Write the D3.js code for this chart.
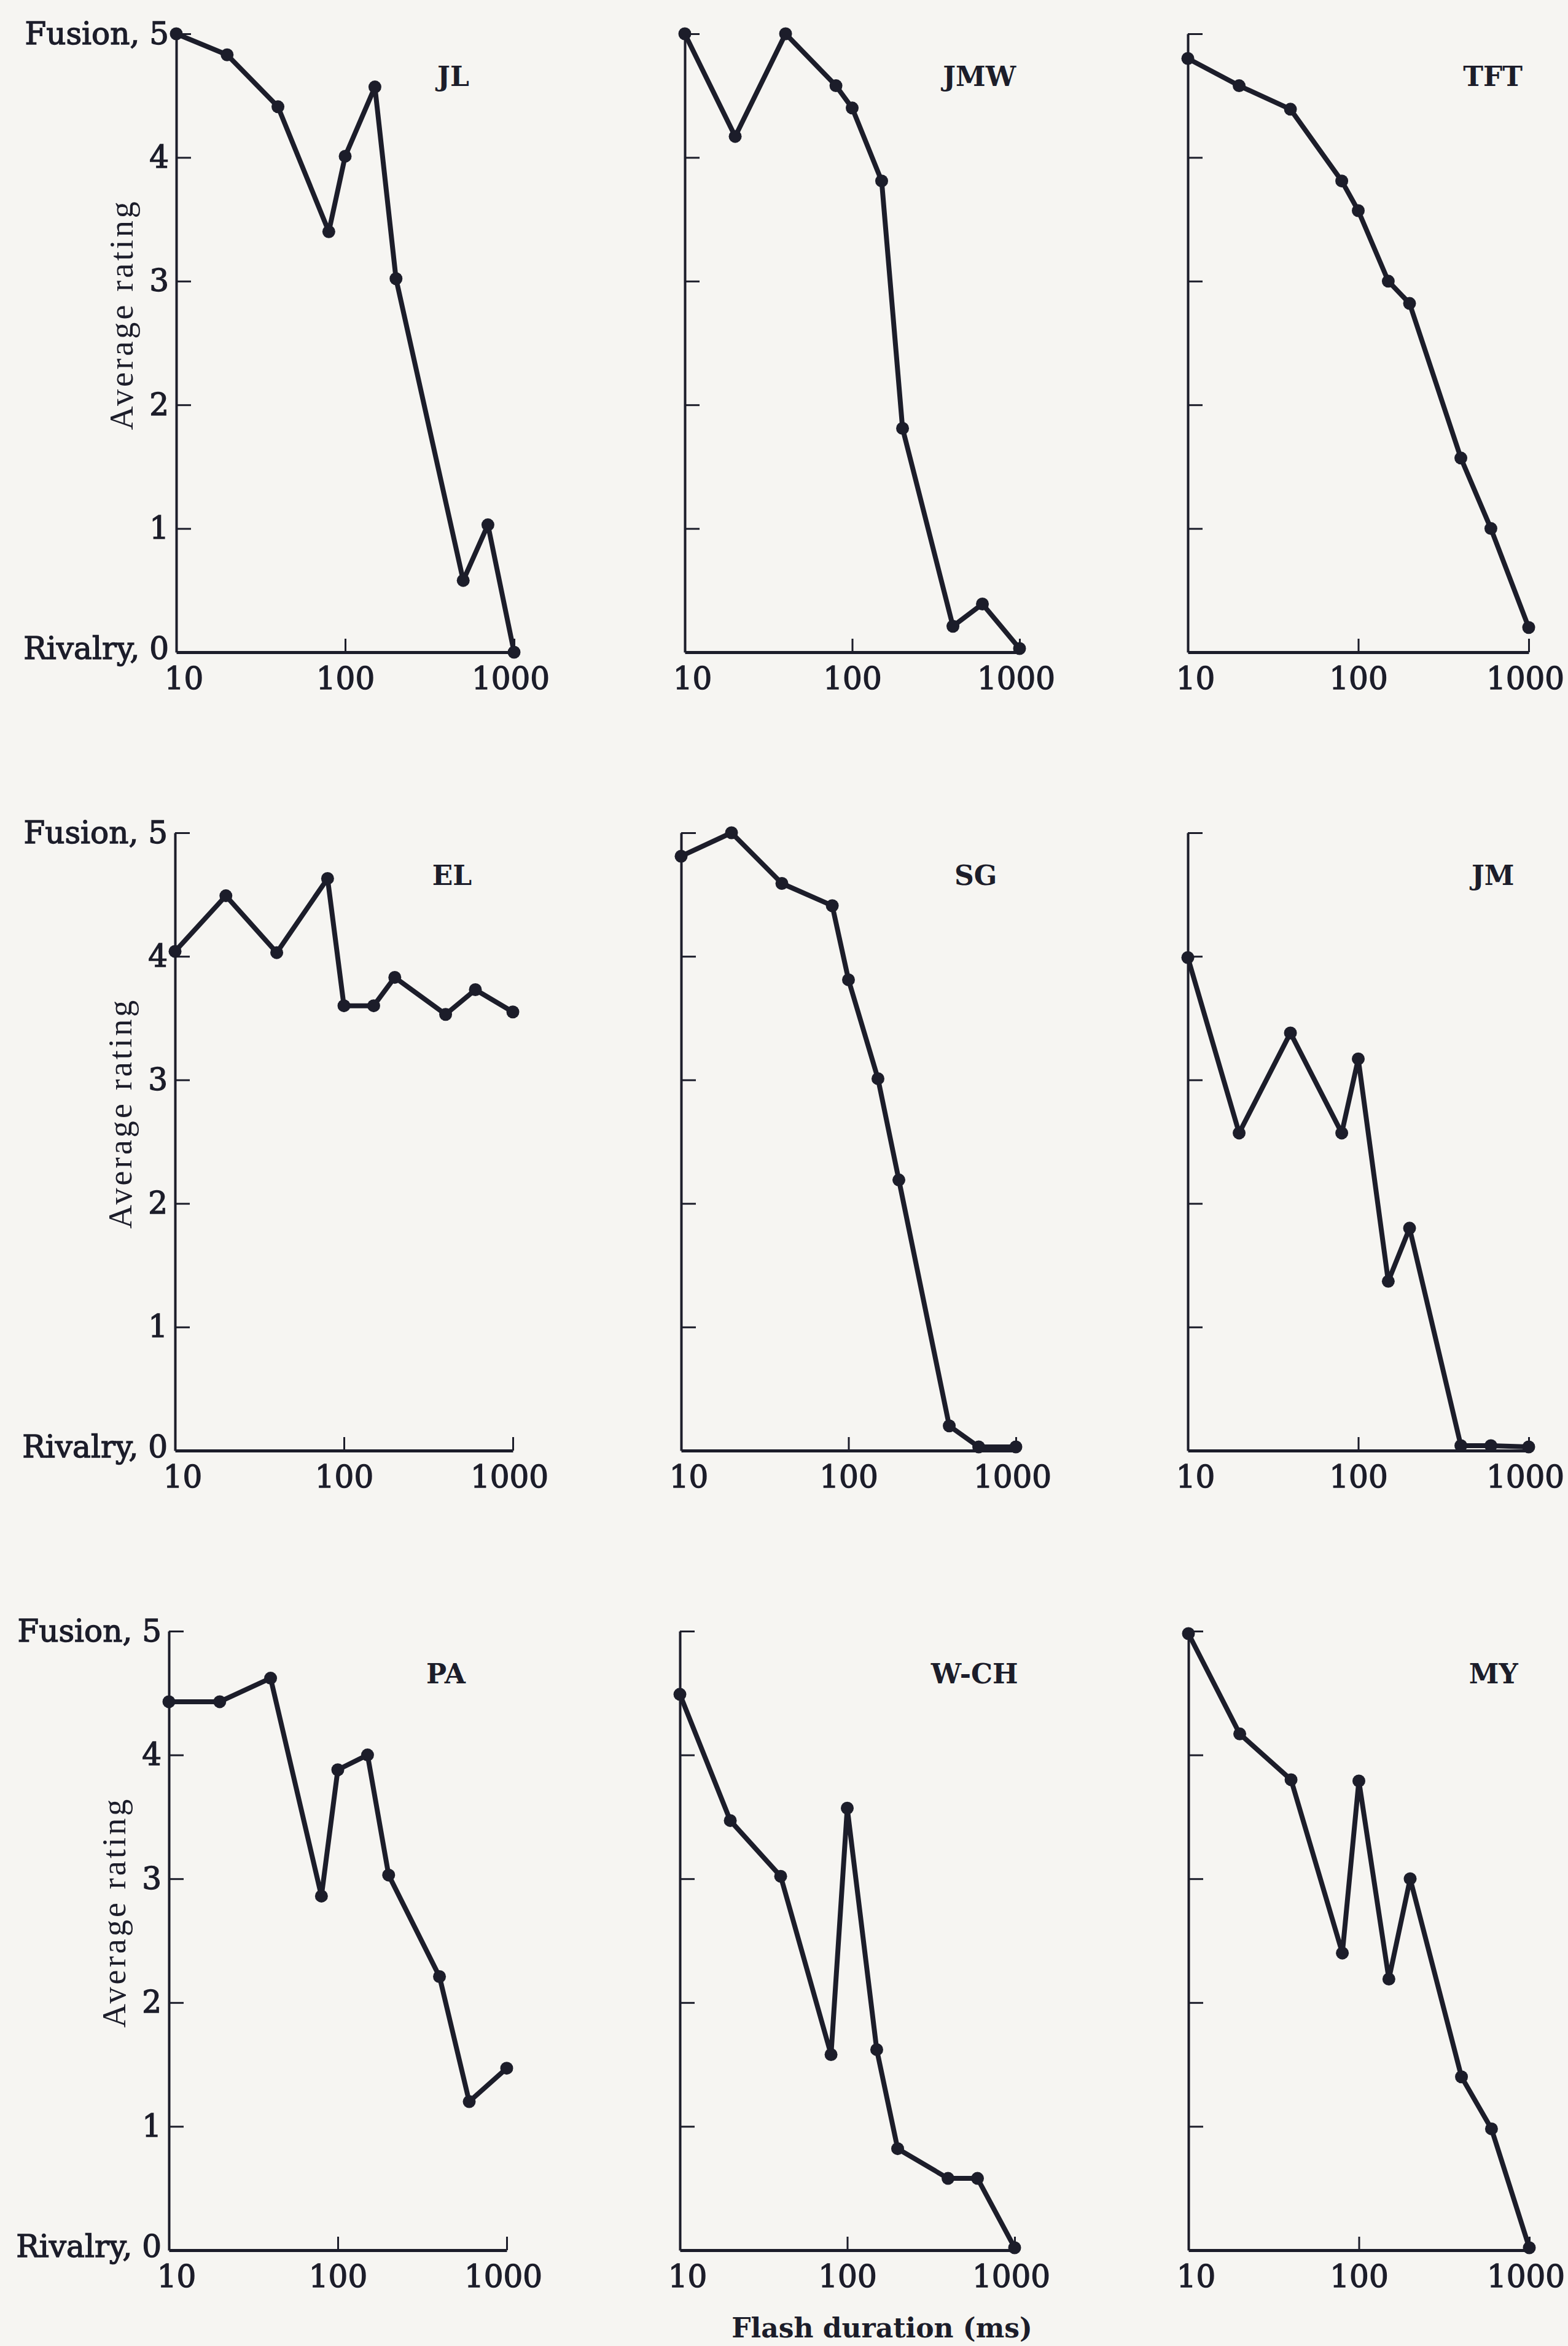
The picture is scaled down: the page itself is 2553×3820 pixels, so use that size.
<!DOCTYPE html>
<html>
<head>
<meta charset="utf-8">
<script src="https://cdn.jsdelivr.net/npm/d3@7"></script>
<style>
  body { margin: 0; background: #f6f5f2; }
  svg { display: block; }
</style>
</head>
<body>
<svg width="2553" height="3820"></svg>
<script>
// flash durations (ms); JL was run with slightly different long durations
var durations = [10, 20, 40, 80, 100, 150, 200, 400, 600, 1000];
var durationsJL = [10, 20, 40, 80, 100, 150, 200, 500, 700, 1000];

// average rating per duration
var ratingsJL  = [5.0, 4.83, 4.41, 3.40, 4.01, 4.57, 3.02, 0.58, 1.03, 0.0];
var ratingsJMW = [5.0, 4.17, 5.0, 4.58, 4.40, 3.81, 1.81, 0.21, 0.39, 0.03];
var ratingsTFT = [4.80, 4.58, 4.39, 3.81, 3.57, 3.0, 2.82, 1.57, 1.0, 0.2];
var ratingsEL  = [4.04, 4.49, 4.03, 4.63, 3.60, 3.60, 3.83, 3.53, 3.73, 3.55];
var ratingsSG  = [4.81, 5.0, 4.59, 4.41, 3.81, 3.01, 2.19, 0.2, 0.03, 0.03];
var ratingsJM  = [3.99, 2.57, 3.38, 2.57, 3.17, 1.37, 1.80, 0.04, 0.04, 0.03];
var ratingsPA  = [4.43, 4.43, 4.62, 2.86, 3.88, 4.0, 3.03, 2.21, 1.20, 1.47];
var ratingsWCH = [4.49, 3.47, 3.02, 1.58, 3.57, 1.62, 0.82, 0.58, 0.58, 0.02];
var ratingsMY  = [4.98, 4.17, 3.80, 2.40, 3.79, 2.19, 3.0, 1.40, 0.98, 0.02];

var subjects = ['JL', 'JMW', 'TFT', 'EL', 'SG', 'JM', 'PA', 'W-CH', 'MY'];
var xTicks = [10, 100, 1000];
var yTicks = [0, 1, 2, 3, 4, 5];
var yTickLabels = ['Rivalry, 0', '1', '2', '3', '4', 'Fusion, 5'];

var panels = [
  { name: subjects[0], x: durationsJL, y: ratingsJL },
  { name: subjects[1], x: durations, y: ratingsJMW },
  { name: subjects[2], x: durations, y: ratingsTFT },
  { name: subjects[3], x: durations, y: ratingsEL },
  { name: subjects[4], x: durations, y: ratingsSG },
  { name: subjects[5], x: durations, y: ratingsJM },
  { name: subjects[6], x: durations, y: ratingsPA },
  { name: subjects[7], x: durations, y: ratingsWCH },
  { name: subjects[8], x: durations, y: ratingsMY }
];

// layout of the 3x3 grid
var axisX = [[287, 1115, 1934], [285, 1109, 1934], [275, 1107, 1935]];
var colWidth = [550, 545, 555];
var rowTop = [55, 1356, 2656];
var rowBottom = [1062, 2362, 3664];
var labelPos = [0.82, 0.88, 0.895];

var ink = '#1c1d2a';
var svg = d3.select('svg');

svg.append('rect')
  .attr('width', 2553)
  .attr('height', 3820)
  .attr('fill', '#f6f5f2');

panels.forEach(function(p, i) {
  var row = Math.floor(i / 3), col = i % 3;
  var x0 = axisX[row][col], w = colWidth[col];

  var x = d3.scaleLog()
    .domain([10, 1000])
    .range([x0, x0 + w]);

  var y = d3.scaleLinear()
    .domain([0, 5])
    .range([rowBottom[row], rowTop[row]]);

  var g = svg.append('g');

  var xAxis = g.append('g')
    .attr('transform', 'translate(0,' + rowBottom[row] + ')')
    .call(d3.axisBottom(x)
      .tickValues(xTicks)
      .tickFormat(d3.format('d'))
      .tickSize(-22)
      .tickSizeOuter(0)
      .tickPadding(24));
  xAxis.select('.domain').attr('stroke', ink).attr('stroke-width', 5);
  xAxis.selectAll('.tick line').attr('stroke', ink).attr('stroke-width', 3)
    .filter(function(d) { return d === 10; }).remove();
  xAxis.selectAll('.tick text')
    .attr('dx', function(d) { return d === 10 ? 12 : (d === 1000 ? -6 : 0); });

  var yAxis = g.append('g')
    .attr('transform', 'translate(' + x0 + ',0)')
    .call(d3.axisLeft(y)
      .tickValues(yTicks)
      .tickSize(-24)
      .tickSizeOuter(0)
      .tickPadding(12)
      .tickFormat(function(d, k) { return col === 0 ? yTickLabels[k] : ''; }));
  yAxis.select('.domain').attr('stroke', ink).attr('stroke-width', 4);
  yAxis.selectAll('.tick line').attr('stroke', ink).attr('stroke-width', 3)
    .filter(function(d) { return d === 0; }).remove();
  yAxis.selectAll('.tick text')
    .attr('dy', function(d) { return d === 0 ? '0.2em' : '0.32em'; });

  g.selectAll('.tick text')
    .attr('fill', ink)
    .attr('stroke', ink)
    .attr('stroke-width', 1.4)
    .style('font-family', '"DejaVu Serif", serif')
    .style('font-size', '50px');

  var pts = p.x.map(function(d, k) { return { x: d, y: p.y[k] }; });

  var line = d3.line()
    .x(function(d) { return x(d.x); })
    .y(function(d) { return y(d.y); });

  g.append('path')
    .datum(pts)
    .attr('d', line)
    .attr('fill', 'none')
    .attr('stroke', ink)
    .attr('stroke-width', 8)
    .attr('stroke-linejoin', 'round');

  g.selectAll('circle')
    .data(pts)
    .enter().append('circle')
    .attr('cx', function(d) { return x(d.x); })
    .attr('cy', function(d) { return y(d.y); })
    .attr('r', 10.5)
    .attr('fill', ink);

  g.append('text')
    .attr('x', x0 + w * labelPos[col])
    .attr('y', rowTop[row] + 85)
    .attr('text-anchor', 'middle')
    .attr('fill', ink)
    .style('font-family', '"DejaVu Serif", serif')
    .style('font-weight', 'bold')
    .style('font-size', '44px')
    .text(p.name);

  if (col === 0) {
    g.append('text')
      .attr('transform', 'translate(' + (x0 - 90) + ',' + y(2.72) + ') rotate(-90)')
      .attr('text-anchor', 'middle')
      .attr('dy', '0.35em')
      .attr('fill', ink)
      .attr('textLength', 372)
      .attr('lengthAdjust', 'spacing')
      .style('font-family', '"Liberation Serif", serif')
      .style('font-size', '54px')
      .text('Average rating');
  }
});

svg.append('text')
  .attr('x', 1436)
  .attr('y', 3806)
  .attr('text-anchor', 'middle')
  .attr('fill', ink)
  .style('font-family', '"DejaVu Serif", serif')
  .style('font-weight', 'bold')
  .style('font-size', '44px')
  .text('Flash duration (ms)');
</script>
</body>
</html>
